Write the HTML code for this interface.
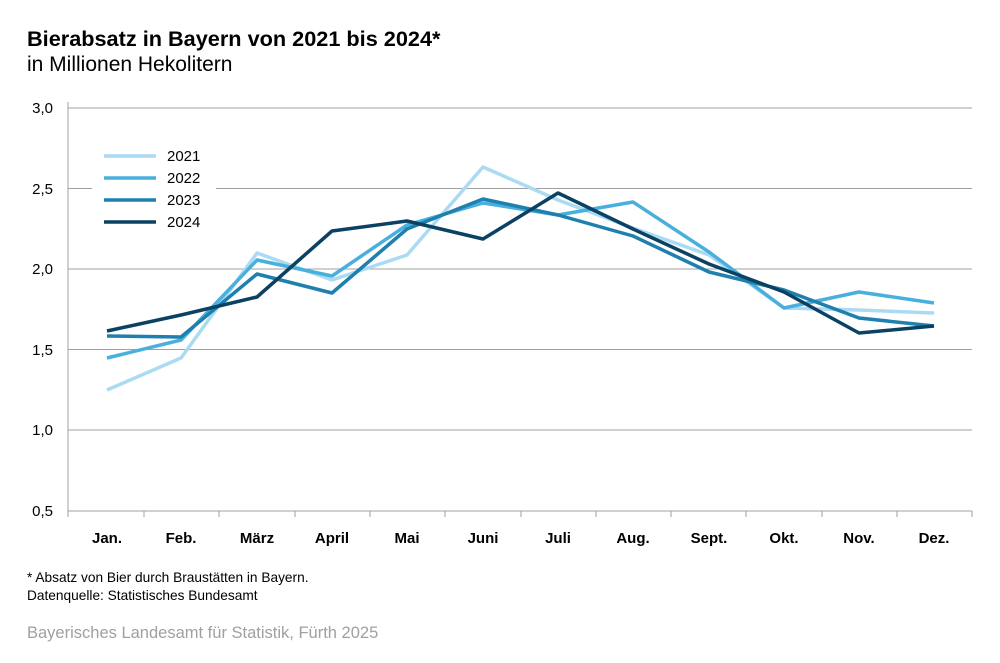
<!DOCTYPE html>
<html><head><meta charset="utf-8"><style>
body{margin:0;background:#fff;width:1000px;height:658px;overflow:hidden;font-family:"Liberation Sans",Arial,sans-serif}
</style></head><body>
<svg width="1000" height="658" xmlns="http://www.w3.org/2000/svg" font-family="Liberation Sans, Arial, sans-serif">
<text x="27" y="46" font-size="21.7" font-weight="bold" fill="#000">Bierabsatz in Bayern von 2021 bis 2024*</text>
<text x="27" y="71" font-size="21" fill="#000">in Millionen Hekolitern</text>
<g stroke="#a0a0a0" stroke-width="1">
<line x1="68" y1="108" x2="972" y2="108"/><line x1="68" y1="188.5" x2="972" y2="188.5"/>
<line x1="68" y1="269" x2="972" y2="269"/><line x1="68" y1="349.5" x2="972" y2="349.5"/>
<line x1="68" y1="430" x2="972" y2="430"/>
<line x1="68" y1="102" x2="68" y2="517"/>
<line x1="68" y1="511" x2="972" y2="511"/>
<line x1="144" y1="511" x2="144" y2="517"/><line x1="219" y1="511" x2="219" y2="517"/><line x1="295" y1="511" x2="295" y2="517"/><line x1="370" y1="511" x2="370" y2="517"/><line x1="445" y1="511" x2="445" y2="517"/><line x1="521" y1="511" x2="521" y2="517"/><line x1="596" y1="511" x2="596" y2="517"/><line x1="671" y1="511" x2="671" y2="517"/><line x1="746" y1="511" x2="746" y2="517"/><line x1="822" y1="511" x2="822" y2="517"/><line x1="897" y1="511" x2="897" y2="517"/><line x1="972" y1="511" x2="972" y2="517"/>
</g>
<g font-size="15" fill="#000" text-anchor="end">
<text x="53" y="113">3,0</text><text x="53" y="194">2,5</text><text x="53" y="274">2,0</text><text x="53" y="355">1,5</text><text x="53" y="435">1,0</text><text x="53" y="516">0,5</text>
</g>
<g font-size="15" font-weight="bold" fill="#000" text-anchor="middle">
<text x="107" y="543">Jan.</text><text x="181" y="543">Feb.</text><text x="257" y="543">März</text><text x="332" y="543">April</text><text x="407" y="543">Mai</text><text x="483" y="543">Juni</text><text x="558" y="543">Juli</text><text x="633" y="543">Aug.</text><text x="709" y="543">Sept.</text><text x="784" y="543">Okt.</text><text x="859" y="543">Nov.</text><text x="934" y="543">Dez.</text>
</g>
<rect x="92" y="140" width="124" height="95" fill="#fff"/>
<g fill="none" stroke-width="3.5" stroke-linejoin="round">
<polyline stroke="#aadbf3" points="107,390 181,358 257,253 332,280 407,255 483,167 558,200 633,228 709,255 784,308 859,310 934,313"/>
<polyline stroke="#49afdd" points="107,358 181,340 257,260 332,276 407,225 483,203 558,215 633,202 709,252 784,308 859,292 934,303"/>
<polyline stroke="#1f7fae" points="107,336 181,337 257,274 332,293 407,229 483,199 558,215 633,236 709,272 784,290 859,318 934,326"/>
<polyline stroke="#0b4163" points="107,331 181,315 257,297 332,231 407,221 483,239 558,193 633,229 709,264 784,292 859,333 934,326"/>
<line x1="104" y1="156" x2="156" y2="156" stroke="#aadbf3"/>
<line x1="104" y1="178" x2="156" y2="178" stroke="#49afdd"/>
<line x1="104" y1="200" x2="156" y2="200" stroke="#1f7fae"/>
<line x1="104" y1="222" x2="156" y2="222" stroke="#0b4163"/>
</g>
<g font-size="15" fill="#000">
<text x="167" y="161">2021</text><text x="167" y="183">2022</text><text x="167" y="205">2023</text><text x="167" y="227">2024</text>
</g>
<text x="27" y="582" font-size="13.7" fill="#000">* Absatz von Bier durch Braustätten in Bayern.</text>
<text x="27" y="600" font-size="13.7" fill="#000">Datenquelle: Statistisches Bundesamt</text>
<text x="27" y="638" font-size="16.5" fill="#a0a0a0">Bayerisches Landesamt für Statistik, Fürth 2025</text>
</svg>
</body></html>
